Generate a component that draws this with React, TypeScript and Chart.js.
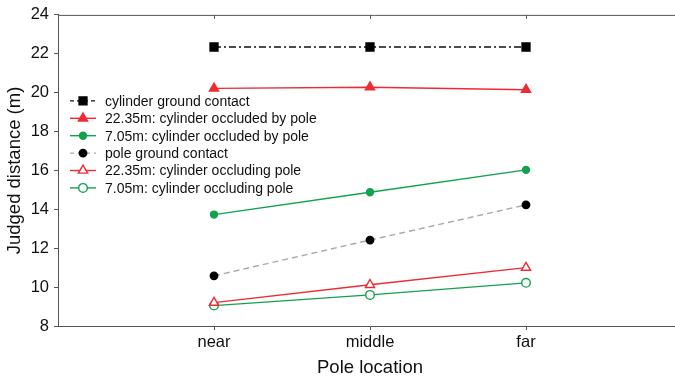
import React, { useEffect, useRef } from 'react';
import { Chart, registerables } from 'chart.js';
import { drawPoint } from 'chart.js/helpers';

Chart.register(...registerables);

const categories = ['near', 'middle', 'far'];
const yTicks = [8, 10, 12, 14, 16, 18, 20, 22, 24];
const seriesLabels = [
  'cylinder ground contact',
  '22.35m: cylinder occluded by pole',
  '7.05m: cylinder occluded by pole',
  'pole ground contact',
  '22.35m: cylinder occluding pole',
  '7.05m: cylinder occluding pole',
];
const cylinderGround = [22.35, 22.35, 22.35];
const farOccluded = [20.22, 20.28, 20.15];
const nearOccluded = [13.73, 14.88, 16.03];
const poleGround = [10.58, 12.42, 14.23];
const farOccluding = [9.2, 10.12, 11.0];
const nearOccluding = [9.05, 9.6, 10.22];

const RED = '#ee2b33';
const GREEN = '#12a24e';
const FONT = "'Liberation Sans', Arial, sans-serif";

const toXY = (arr: number[]) => arr.map((v, i) => ({ x: i + 1, y: v }));

const frameAndLegend = {
  id: 'frameAndLegend',
  afterDraw(chart: any) {
    const ctx = chart.ctx;
    const { left, right, top } = chart.chartArea;
    const xs = chart.scales.x;
    ctx.save();
    ctx.strokeStyle = '#555';
    ctx.lineWidth = 1;
    ctx.beginPath();
    ctx.moveTo(left, top + 0.5);
    ctx.lineTo(right + 20, top + 0.5);
    categories.forEach((_, i) => {
      const px = Math.round(xs.getPixelForValue(i + 1)) + 0.5;
      ctx.moveTo(px, top);
      ctx.lineTo(px, top + 4);
    });
    ctx.stroke();

    const x0 = left + 12;
    const lineLen = 26;
    const textX = left + 47;
    let y = top + 86;
    const step = 17.4;
    ctx.font = `14px ${FONT}`;
    ctx.textBaseline = 'middle';
    chart.data.datasets.forEach((ds: any) => {
      ctx.save();
      ctx.strokeStyle = ds.borderColor;
      ctx.lineWidth = ds.borderWidth;
      ctx.setLineDash(ds.legendDash || []);
      ctx.beginPath();
      ctx.moveTo(x0, y);
      ctx.lineTo(x0 + lineLen, y);
      ctx.stroke();
      ctx.restore();
      ctx.save();
      ctx.fillStyle = ds.pointBackgroundColor;
      ctx.strokeStyle = ds.pointBorderColor;
      ctx.lineWidth = ds.pointBorderWidth;
      drawPoint(ctx, { pointStyle: ds.pointStyle, radius: ds.pointRadius, borderWidth: ds.pointBorderWidth, rotation: 0 } as any, x0 + lineLen / 2, y);
      ctx.restore();
      ctx.fillStyle = '#111';
      ctx.fillText(ds.label, textX, y + 1);
      y += step;
    });
    ctx.restore();
  },
};

export default function App() {
  const ref = useRef<HTMLCanvasElement | null>(null);
  useEffect(() => {
    document.body.style.margin = '0';
    const canvas = ref.current!;
    const mk = (label: string, data: number[], color: string, opts: any) => ({
      label,
      data: toXY(data),
      borderColor: color,
      borderWidth: 1.4,
      pointBorderWidth: 1.4,
      ...opts,
    });
    const chart = new Chart(canvas, {
      type: 'line',
      data: {
        datasets: [
          mk(seriesLabels[0], cylinderGround, '#111', {
            borderDash: [7, 3, 2, 3], legendDash: [4, 3], pointStyle: 'rect', pointRadius: 5.6,
            pointBackgroundColor: '#000', pointBorderColor: '#000',
          }),
          mk(seriesLabels[1], farOccluded, RED, {
            pointStyle: 'triangle', pointRadius: 5.3,
            pointBackgroundColor: RED, pointBorderColor: RED,
          }),
          mk(seriesLabels[2], nearOccluded, GREEN, {
            pointStyle: 'circle', pointRadius: 3.5,
            pointBackgroundColor: GREEN, pointBorderColor: GREEN,
          }),
          mk(seriesLabels[3], poleGround, '#a8a8a8', {
            borderDash: [6, 4], legendDash: [4, 4], pointStyle: 'circle', pointRadius: 3.7,
            pointBackgroundColor: '#000', pointBorderColor: '#000',
          }),
          mk(seriesLabels[4], farOccluding, RED, {
            pointStyle: 'triangle', pointRadius: 5.3,
            pointBackgroundColor: '#fff', pointBorderColor: RED,
          }),
          mk(seriesLabels[5], nearOccluding, GREEN, {
            pointStyle: 'circle', pointRadius: 4.3,
            pointBackgroundColor: '#fff', pointBorderColor: GREEN,
          }),
        ],
      },
      options: {
        animation: false,
        responsive: false,
        layout: { padding: { top: 12, right: 8, left: 0, bottom: 0 } },
        plugins: { legend: { display: false }, tooltip: { enabled: false } },
        scales: {
          x: {
            type: 'linear',
            min: 0,
            max: 4,
            afterFit: (s: any) => { s.height = 53; },
            afterBuildTicks: (s: any) => { s.ticks = categories.map((_, i) => ({ value: i + 1 })); },
            ticks: {
              callback: (v: any) => categories[Number(v) - 1] ?? '',
              font: { family: FONT, size: 16.5 },
              color: '#111',
              padding: 3,
              maxRotation: 0,
            },
            grid: { drawOnChartArea: false, drawTicks: true, tickLength: 4, color: '#555' },
            border: { display: true, color: '#555', width: 1 },
            title: {
              display: true,
              text: 'Pole location',
              font: { family: FONT, size: 18.5 },
              color: '#111',
              padding: { top: 2, bottom: 0 },
            },
          },
          y: {
            min: 8,
            max: 24,
            afterFit: (s: any) => { s.width = 58; },
            afterBuildTicks: (s: any) => { s.ticks = yTicks.map((v) => ({ value: v })); },
            ticks: {
              font: { family: FONT, size: 16.5 },
              color: '#111',
              padding: 5,
            },
            grid: { drawOnChartArea: false, drawTicks: true, tickLength: 4, color: '#555' },
            border: { display: true, color: '#555', width: 1 },
            title: {
              display: true,
              text: 'Judged distance (m)',
              font: { family: FONT, size: 18.5 },
              color: '#111',
              padding: { top: 4, bottom: 4 },
            },
          },
        },
      },
      plugins: [frameAndLegend],
    } as any);
    return () => chart.destroy();
  }, []);
  return (
    <div style={{ width: 675, height: 379, overflow: 'hidden', position: 'relative', background: '#fff' }}>
      <canvas ref={ref} width={690} height={379} style={{ display: 'block', width: 690, height: 379 }} />
    </div>
  );
}
